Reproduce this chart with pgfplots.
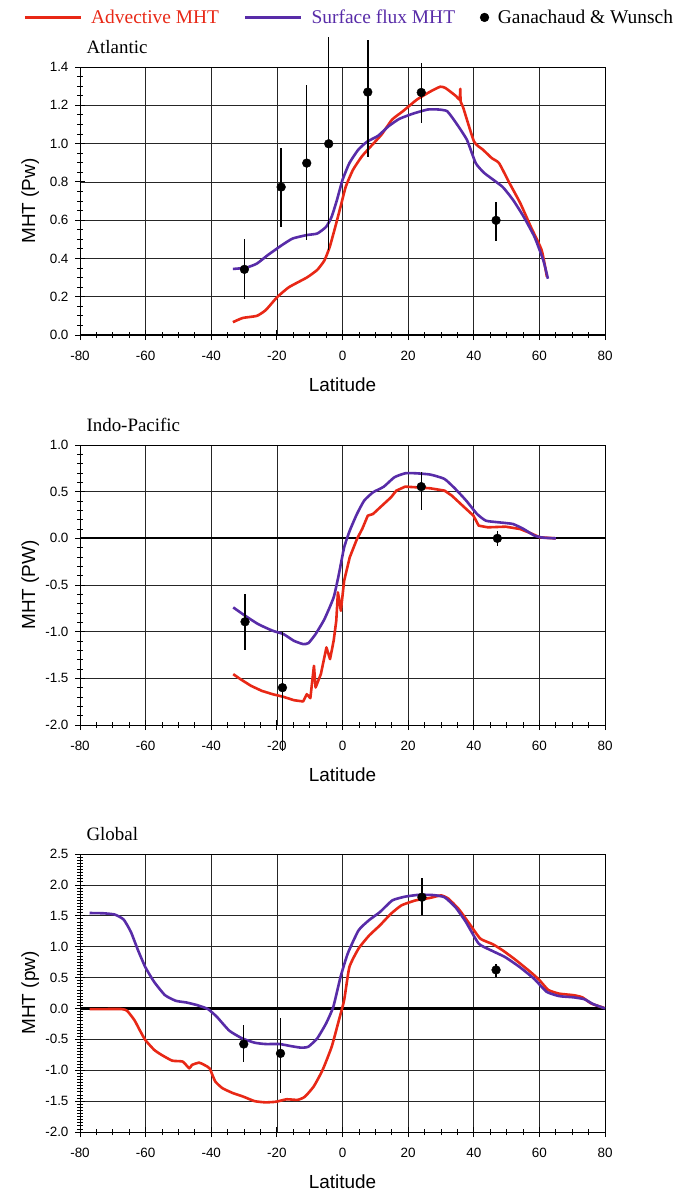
\documentclass[border=0pt]{standalone}
\usepackage{fontspec}
\setmainfont{Liberation Serif}
\setsansfont{Liberation Sans}
\usepackage{pgfplots}
\pgfplotsset{compat=1.18}
\definecolor{advred}{RGB}{232,40,22}
\definecolor{surfpurple}{RGB}{88,44,168}
\pgfplotsset{
  mhtpanel/.style={
    scale only axis,
    width=525bp,
    xmin=-80, xmax=80,
    xtick={-80,-60,...,80},
    minor x tick num=3,
    xtick pos=bottom, ytick pos=left,
    grid=major,
    major grid style={black!85, line width=0.7bp},
    axis line style={black, line width=0.9bp},
    tick align=center,
    major tick length=10bp,
    minor tick length=6bp,
    every tick/.style={black, line width=0.8bp},
    /pgf/number format/assume math mode=true,
    ticklabel style={font=\sffamily\fontsize{13.5}{16}\selectfont},
    xticklabel style={yshift=-8bp},
    yticklabel style={xshift=-3bp, /pgf/number format/.cd, fixed, fixed zerofill, precision=1},
    every axis x label/.style={at={(axis description cs:0.5,0)}, anchor=center, yshift=-50bp,
      font=\sffamily\fontsize{19}{22}\selectfont},
    every axis y label/.style={at={(axis description cs:-0.095,0.5)}, rotate=90, anchor=center,
      font=\sffamily\fontsize{19}{22}\selectfont},
    title style={font=\fontsize{19}{22}\selectfont, at={(axis description cs:0,1)}, anchor=west, xshift=3bp, yshift=14bp},
    xlabel={Latitude},
    extra y ticks={0},
    extra y tick labels={},
    extra y tick style={grid=major, major grid style={black, line width=2.2bp}, major tick length=0pt},
    clip=false,
  },
  linelegend/.style={legend image code/.code={\draw[##1] (0bp,0bp) -- (56bp,0bp);}},
  advline/.style={color=advred, line width=2.6bp, mark=none, line join=round},
  surfline/.style={color=surfpurple, line width=2.6bp, mark=none, line join=round},
  gwdata/.style={only marks, mark=*, mark size=4.4bp, black,
    error bars/y dir=both, error bars/y explicit, error bars/error mark=none,
    error bars/error bar style={line width=1.5bp, black}},
}
\begin{document}
\begin{tikzpicture}
\path[use as bounding box] (0,0) rectangle (681bp,-1193bp);

% ---------------- Atlantic ----------------
\begin{axis}[mhtpanel,
  at={(80bp,-67bp)}, anchor=north west,
  height=268bp,
  ymin=0, ymax=1.4,
  ytick={0,0.2,...,1.4},
  minor y tick num=3,
  ylabel={MHT (Pw)},
  title={Atlantic},
  legend columns=3,
  legend style={at={(axis description cs:0.512,1.185)}, anchor=center, draw=none, fill=none,
    font=\fontsize{19.5}{22}\selectfont,
    /tikz/every odd column/.append style={column sep=8bp},
    /tikz/every even column/.append style={column sep=24bp},
    nodes={inner sep=1bp}},
  legend cell align=left,
]
\addplot[advline, linelegend, smooth, tension=0.3] coordinates {
(-33.4,0.067) (-30.4,0.089) (-26.1,0.10) (-23.4,0.13) (-19.9,0.198) (-16.3,0.25)
(-10.9,0.30) (-7.7,0.34) (-5.5,0.39) (-3.9,0.46) (-2.2,0.565) (-0.6,0.67)
(1.0,0.775) (3.2,0.863) (5.9,0.933) (8.6,0.985) (11.9,1.047) (15.1,1.125)
(18.4,1.169) (22.7,1.23) (27.0,1.274) (29.8,1.297) (31.4,1.29) (34.6,1.248)
(35.7,1.23) (35.9,1.286) (36.0,1.22) (36.8,1.187) (40.1,1.01) (42.8,0.968)
(45.5,0.924) (47.7,0.898) (50.9,0.793) (54.2,0.688) (57.4,0.565) (60.7,0.443) (62.3,0.303)
};
\addlegendentry{\textcolor{advred}{Advective MHT}}
\addplot[surfline, linelegend, smooth, tension=0.3] coordinates {
(-33.4,0.345) (-29.3,0.352) (-26.1,0.373) (-22.8,0.417) (-18.5,0.469) (-15.2,0.504)
(-10.9,0.522) (-7.7,0.53) (-5.0,0.565) (-3.3,0.618) (-1.7,0.705) (0,0.81)
(2.1,0.898) (4.8,0.968) (7.5,1.01) (10.8,1.04) (14.0,1.09) (17.3,1.129)
(21.6,1.157) (26.0,1.178) (29.2,1.178) (31.9,1.169) (34.6,1.108) (37.9,1.02)
(40.6,0.898) (43.3,0.845) (48.7,0.775) (52.0,0.705) (55.2,0.618) (58.5,0.513)
(61.2,0.39) (62.6,0.294)
};
\addlegendentry{\textcolor{surfpurple}{Surface flux MHT}}
\addlegendimage{only marks, mark=*, mark size=4.4bp, black}
\addlegendentry{Ganachaud \& Wunsch}
\addplot[forget plot, gwdata] table[x=x, y=y, y error plus=ep, y error minus=em] {
x y ep em
-29.9 0.343 0.156 0.154
-18.7 0.773 0.204 0.208
-10.9 0.898 0.406 0.403
-4.2 0.999 0.56 0.556
7.7 1.269 0.272 0.337
24.0 1.267 0.153 0.159
46.8 0.599 0.098 0.109
};
\end{axis}

% ---------------- Indo-Pacific ----------------
\begin{axis}[mhtpanel,
  at={(80bp,-445bp)}, anchor=north west,
  height=280bp,
  ymin=-2, ymax=1,
  ytick={-2,-1.5,...,1},
  minor y tick num=4,
  ylabel={MHT (PW)},
  title={Indo-Pacific},
]
\addplot[advline] coordinates {
(-33.3,-1.455) (-31.1,-1.509) (-27.9,-1.58) (-24.6,-1.634) (-21.3,-1.67) (-18.0,-1.698)
(-14.8,-1.734) (-12.0,-1.748) (-10.9,-1.67) (-9.8,-1.712) (-8.7,-1.366) (-8.2,-1.598)
(-6.6,-1.455) (-4.9,-1.169) (-3.8,-1.294) (-2.7,-1.098) (-1.9,-0.883) (-1.4,-0.579)
(-0.5,-0.776) (0.5,-0.454) (2.2,-0.204) (4.4,-0.007) (6.0,0.10) (7.7,0.243)
(9.3,0.261) (11.5,0.333) (14.8,0.44) (16.4,0.511) (19.1,0.554) (22.4,0.547)
(26.8,0.536) (31.1,0.511) (33.3,0.458) (36.6,0.35) (39.9,0.243) (41.5,0.136)
(44.3,0.118) (49.7,0.125) (54.1,0.10) (57.4,0.054) (60.1,0.011) (65.0,0.0)
};
\addplot[surfline, smooth, tension=0.3] coordinates {
(-33.3,-0.74) (-30.1,-0.819) (-25.7,-0.919) (-21.3,-0.99) (-18.0,-1.026) (-14.8,-1.098)
(-12.0,-1.133) (-10.4,-1.123) (-8.2,-1.026) (-5.5,-0.865) (-2.7,-0.633) (-1.1,-0.383)
(0.5,-0.097) (2.2,0.082) (4.4,0.261) (6.6,0.404) (9.3,0.493) (12.6,0.554)
(15.8,0.654) (19.1,0.697) (22.4,0.697) (26.8,0.683) (31.1,0.636) (34.4,0.529)
(37.7,0.404) (41.0,0.261) (43.7,0.189) (47.5,0.172) (51.9,0.154) (55.2,0.10)
(58.5,0.029) (61.2,0.007) (65.0,0.0)
};
\addplot[gwdata] table[x=x, y=y, y error plus=ep, y error minus=em] {
x y ep em
-29.7 -0.894 0.297 0.304
-18.3 -1.60 0.60 0.68
24.0 0.554 0.154 0.247
47.2 0.0 0.075 0.079
};
\end{axis}

% ---------------- Global ----------------
\begin{axis}[mhtpanel,
  at={(80bp,-854bp)}, anchor=north west,
  height=278bp,
  ymin=-2, ymax=2.5,
  ytick={-2,-1.5,...,2.5},
  minor y tick num=9,
  ylabel={MHT (pw)},
  title={Global},
]
\addplot[advline, smooth, tension=0.3] coordinates {
(-77.1,-0.01) (-72.7,-0.01) (-67.2,-0.01) (-65.6,-0.04) (-63.4,-0.19) (-61.8,-0.35)
(-60.1,-0.51) (-57.4,-0.67) (-55.2,-0.75) (-51.9,-0.845) (-48.7,-0.86) (-46.7,-0.97)
(-45.9,-0.915) (-43.7,-0.877) (-42.1,-0.915) (-40.5,-0.97) (-38.8,-1.18) (-36.6,-1.29)
(-33.4,-1.37) (-30.1,-1.43) (-26.8,-1.5) (-23.5,-1.52) (-20.3,-1.51) (-17.0,-1.47)
(-13.7,-1.48) (-11.5,-1.43) (-8.8,-1.265) (-6.1,-1.0) (-3.3,-0.62) (-1.1,-0.19)
(0.5,0.135) (2.1,0.67) (4.9,0.97) (8.1,1.18) (11.4,1.345) (14.7,1.53)
(18.0,1.67) (22.3,1.75) (26.7,1.79) (30.0,1.83) (32.2,1.78) (35.4,1.61)
(38.7,1.37) (42.0,1.13) (45.8,1.04) (49.1,0.93) (52.9,0.78) (57.3,0.59)
(60.0,0.46) (62.7,0.30) (66.0,0.24) (70.4,0.215) (73.1,0.18) (75.8,0.08) (79.7,0.01)
};
\addplot[surfline, smooth, tension=0.3] coordinates {
(-77.1,1.545) (-72.7,1.54) (-69.4,1.52) (-66.7,1.44) (-64.5,1.24) (-62.3,0.94)
(-60.1,0.67) (-57.4,0.43) (-54.1,0.215) (-50.8,0.124) (-47.6,0.097) (-44.3,0.054)
(-41.0,-0.01) (-38.3,-0.135) (-34.5,-0.36) (-30.6,-0.484) (-26.8,-0.554) (-23.5,-0.576)
(-19.2,-0.576) (-15.9,-0.608) (-12.6,-0.635) (-10.4,-0.619) (-7.7,-0.484) (-5.0,-0.242)
(-2.8,0.027) (-0.6,0.51) (1.6,0.89) (4.9,1.265) (8.1,1.43) (11.4,1.56)
(15.2,1.75) (19.1,1.81) (23.4,1.84) (27.8,1.835) (31.1,1.80) (34.4,1.64)
(37.6,1.40) (41.5,1.05) (45.3,0.94) (49.6,0.83) (54.0,0.67) (58.4,0.48)
(62.2,0.27) (66.0,0.20) (70.4,0.18) (73.7,0.15) (76.4,0.07) (80.0,0.0)
};
\addplot[gwdata] table[x=x, y=y, y error plus=ep, y error minus=em] {
x y ep em
-30.1 -0.576 0.306 0.296
-18.9 -0.727 0.567 0.64
24.2 1.80 0.315 0.29
46.8 0.624 0.103 0.11
};
\end{axis}
\end{tikzpicture}
\end{document}
